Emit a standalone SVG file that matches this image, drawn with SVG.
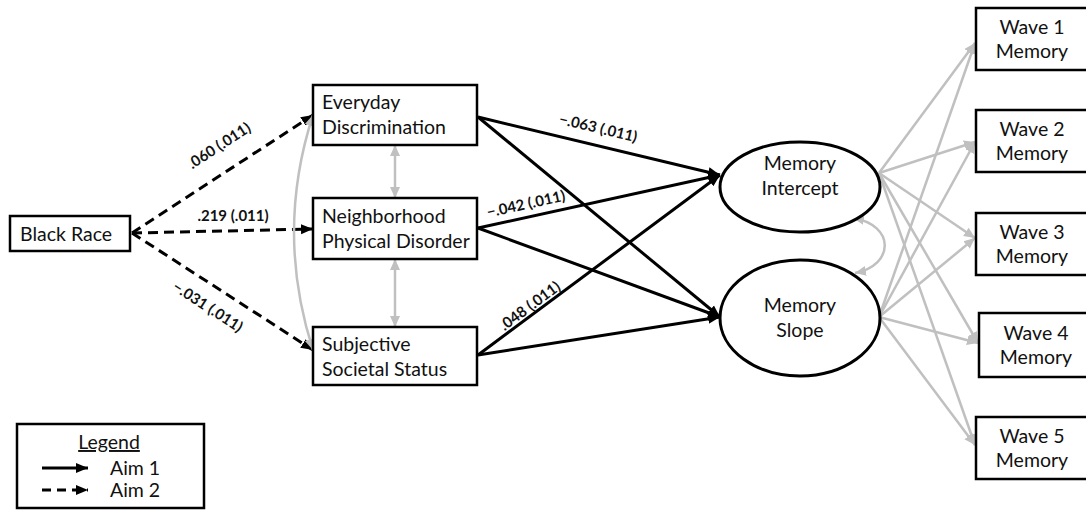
<svg xmlns="http://www.w3.org/2000/svg" width="1086" height="510" viewBox="0 0 1086 510">
<style>
.box{fill:#fff;stroke:#000;stroke-width:2.5}
.ell{fill:#fff;stroke:#000;stroke-width:3}
.t{font-family:Lato,"Open Sans",sans-serif;font-size:19.5px;fill:#111}
.lab{font-family:Lato,"Open Sans",sans-serif;font-size:15px;font-weight:bold;fill:#111}
.solid{stroke:#000;stroke-width:3;fill:none;marker-end:url(#ab)}
.dash{stroke:#000;stroke-width:3;fill:none;stroke-dasharray:10 6;marker-end:url(#ab)}
.gray{stroke:#c0c0c0;stroke-width:2.5;fill:none;marker-end:url(#ag)}
.gray2{stroke:#c0c0c0;stroke-width:2.5;fill:none;marker-end:url(#ag);marker-start:url(#ag)}
</style>
<defs>
<marker id="ab" markerUnits="userSpaceOnUse" markerWidth="14" markerHeight="12" refX="12" refY="5" orient="auto-start-reverse" viewBox="0 0 14 10">
<path d="M0,0 L12,5 L0,10 Z" fill="#000"/>
</marker>
<marker id="ag" markerUnits="userSpaceOnUse" markerWidth="12" markerHeight="12" refX="11" refY="5" orient="auto-start-reverse" viewBox="0 0 12 10">
<path d="M0,0 L11,5 L0,10 Z" fill="#c0c0c0"/>
</marker>
</defs>
<rect width="1086" height="510" fill="#fff"/>
<g id="connectors">
<path class="dash" d="M132,233 L313,115"/>
<path class="dash" d="M132,233 L313,229"/>
<path class="dash" d="M132,233 L313,350"/>
<path class="gray2" d="M313,115 Q275,232 313,350"/>
<path class="gray2" d="M395,145 L395,198"/>
<path class="gray2" d="M395,259 L395,327"/>
<path class="solid" d="M478,117 L720,175"/>
<path class="solid" d="M478,117 L720,317"/>
<path class="solid" d="M478,228 L720,175"/>
<path class="solid" d="M478,228 L720,317"/>
<path class="solid" d="M478,355 L720,175"/>
<path class="solid" d="M478,355 L720,317"/>
<path class="gray2" d="M853,218 C895,225 895,265 855,273"/>
<path class="gray" d="M879,173 L975,43"/>
<path class="gray" d="M879,173 L975,142"/>
<path class="gray" d="M879,173 L975,238"/>
<path class="gray" d="M879,173 L978,343"/>
<path class="gray" d="M879,173 L975,445"/>
<path class="gray" d="M879,317 L975,43"/>
<path class="gray" d="M879,317 L975,142"/>
<path class="gray" d="M879,317 L975,238"/>
<path class="gray" d="M879,317 L978,343"/>
<path class="gray" d="M879,317 L975,445"/>
<text class="lab" transform="translate(222,150) rotate(-33)" text-anchor="middle">.060 (.011)</text>
<text class="lab" x="233" y="221" text-anchor="middle">.219 (.011)</text>
<text class="lab" transform="translate(205,311) rotate(33)" text-anchor="middle">−.031 (.011)</text>
<text class="lab" transform="translate(597,133) rotate(13.4)" text-anchor="middle">−.063 (.011)</text>
<text class="lab" transform="translate(527,209) rotate(-12.3)" text-anchor="middle">−.042 (.011)</text>
<text class="lab" transform="translate(533,310) rotate(-36.6)" text-anchor="middle">.048 (.011)</text>
</g>
<g id="black-race">
<rect class="box" x="10" y="216" width="120" height="35"/>
<text class="t" x="20" y="241">Black Race</text>
</g>
<g id="everyday-discrimination">
<rect class="box" x="313" y="85" width="164" height="60"/>
<text class="t" x="322" y="109">Everyday</text>
<text class="t" x="322" y="134">Discrimination</text>
</g>
<g id="neighborhood-physical-disorder">
<rect class="box" x="313" y="198" width="164" height="61"/>
<text class="t" x="322" y="223">Neighborhood</text>
<text class="t" x="322" y="248">Physical Disorder</text>
</g>
<g id="subjective-societal-status">
<rect class="box" x="313" y="327" width="164" height="58"/>
<text class="t" x="322" y="351">Subjective</text>
<text class="t" x="322" y="376">Societal Status</text>
</g>
<g id="memory-intercept">
<ellipse class="ell" cx="800" cy="187" rx="80" ry="45"/>
<text class="t" x="800" y="170" text-anchor="middle">Memory</text>
<text class="t" x="800" y="195" text-anchor="middle">Intercept</text>
</g>
<g id="memory-slope">
<ellipse class="ell" cx="800" cy="318" rx="80" ry="58"/>
<text class="t" x="800" y="312" text-anchor="middle">Memory</text>
<text class="t" x="800" y="337" text-anchor="middle">Slope</text>
</g>
<g id="wave1">
<rect class="box" x="976" y="8" width="115" height="62"/>
<text class="t" x="1032" y="34" text-anchor="middle">Wave 1</text>
<text class="t" x="1032" y="58" text-anchor="middle">Memory</text>
</g>
<g id="wave2">
<rect class="box" x="976" y="110" width="115" height="62"/>
<text class="t" x="1032" y="136" text-anchor="middle">Wave 2</text>
<text class="t" x="1032" y="160" text-anchor="middle">Memory</text>
</g>
<g id="wave3">
<rect class="box" x="976" y="213" width="115" height="62"/>
<text class="t" x="1032" y="239" text-anchor="middle">Wave 3</text>
<text class="t" x="1032" y="263" text-anchor="middle">Memory</text>
</g>
<g id="wave4">
<rect class="box" x="979" y="313" width="115" height="64"/>
<text class="t" x="1036" y="340" text-anchor="middle">Wave 4</text>
<text class="t" x="1036" y="364" text-anchor="middle">Memory</text>
</g>
<g id="wave5">
<rect class="box" x="976" y="417" width="115" height="62"/>
<text class="t" x="1032" y="443" text-anchor="middle">Wave 5</text>
<text class="t" x="1032" y="467" text-anchor="middle">Memory</text>
</g>
<g id="legend">
<rect class="box" x="17" y="424" width="187" height="84"/>
<text class="t" x="109" y="449" text-anchor="middle" text-decoration="underline">Legend</text>
<path class="solid" d="M42,468 L88,468"/>
<text class="t" x="110" y="475">Aim 1</text>
<path d="M42,490 L88,490" stroke="#000" stroke-width="3" stroke-dasharray="9 6" fill="none" marker-end="url(#ab)"/>
<text class="t" x="110" y="497">Aim 2</text>
</g>
</svg>
